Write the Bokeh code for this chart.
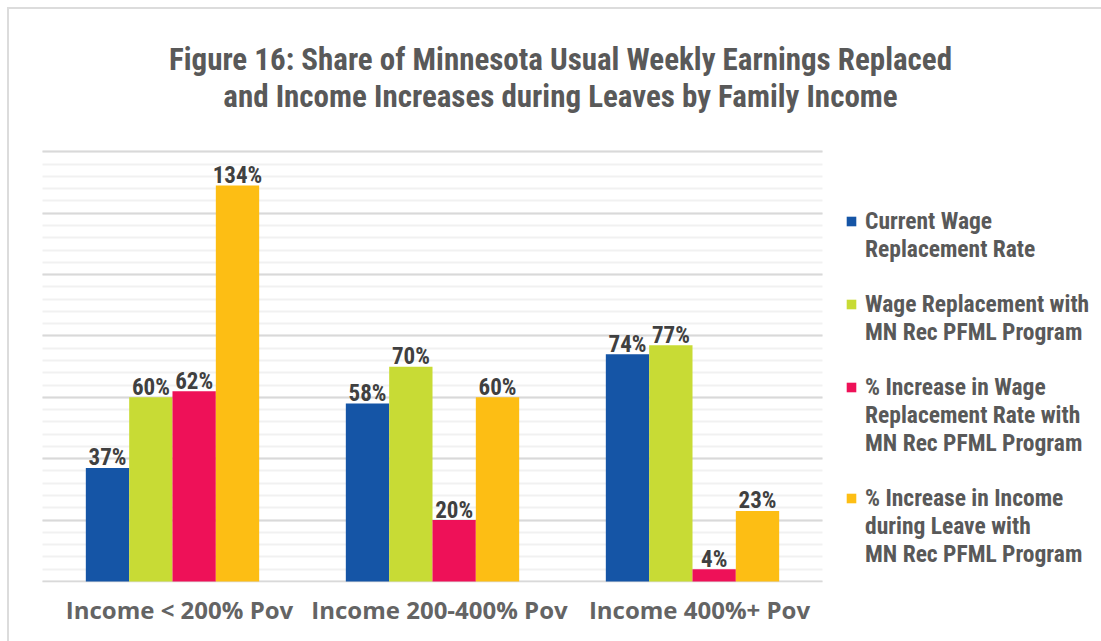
from bokeh.plotting import figure
from bokeh.models import (ColumnDataSource, Legend, LegendItem, Label, BoxAnnotation,
                          SingleIntervalTicker, FixedTicker, Range1d)
from bokeh.layouts import column
from bokeh.transform import dodge
from bokeh.core.properties import value
from bokeh.embed import file_html
from bokeh.resources import INLINE

# ---------------- data ----------------
categories = ["Income < 200% Pov", "Income 200-400% Pov", "Income 400%+ Pov"]

current_wage = [37, 58, 74]
wage_with_pfml = [60, 70, 77]
pct_increase_wage = [62, 20, 4]
pct_increase_income = [129, 60, 23]          # bar heights as drawn in the picture

current_wage_labels = ["37%", "58%", "74%"]
wage_with_pfml_labels = ["60%", "70%", "77%"]
pct_increase_wage_labels = ["62%", "20%", "4%"]
pct_increase_income_labels = ["134%", "60%", "23%"]

legend_lines = [
    ["Current Wage", "Replacement Rate"],
    ["Wage Replacement with", "MN Rec PFML Program"],
    ["% Increase in Wage", "Replacement Rate with", "MN Rec PFML Program"],
    ["% Increase in Income", "during Leave with", "MN Rec PFML Program"],
]
colors = ["#1555A6", "#C8DB35", "#EE1158", "#FDBE14"]

title_lines = ["Figure 16: Share of Minnesota Usual Weekly Earnings Replaced",
               "and Income Increases during Leaves by Family Income"]

COND = "Roboto Condensed"

centers = [i + 0.5 for i in range(len(categories))]
source = ColumnDataSource(dict(
    x=centers,
    s0=current_wage, s1=wage_with_pfml, s2=pct_increase_wage, s3=pct_increase_income,
    l0=current_wage_labels, l1=wage_with_pfml_labels,
    l2=pct_increase_wage_labels, l3=pct_increase_income_labels,
))

# canvas is offset by 9px (7px margin + 2px border of the wrapper)
PX_X = 260.0            # pixels per category
PX_Y = 429.7 / 140.0    # pixels per percent
x0 = -33 / PX_X
y0 = -0.33
p = figure(width=1092, height=632,
           x_range=Range1d(x0, x0 + 1092 / PX_X),
           y_range=Range1d(y0, y0 + 573 / PX_Y),
           output_backend="svg", toolbar_location=None,
           min_border_left=0, min_border_right=0, min_border_top=0, min_border_bottom=59)
p.outline_line_color = None
p.background_fill_color = "white"
p.border_fill_color = "white"

p.yaxis.visible = False
p.xgrid.visible = False
g = p.ygrid[0]
g.ticker = SingleIntervalTicker(interval=20, num_minor_ticks=5)
g.bounds = (0, 140)
g.grid_line_color = "#d9d9d9"
g.grid_line_width = 2
g.minor_grid_line_color = "#f1f1f1"
g.minor_grid_line_width = 2
has_cross = "cross_bounds" in g.properties()
if has_cross:
    g.cross_bounds = (0, len(categories))

label_shift = 7 / PX_X
tick_pos = [c + label_shift for c in centers]
p.xaxis.ticker = FixedTicker(ticks=tick_pos)
p.xaxis.major_label_overrides = {t: lab for t, lab in zip(tick_pos, categories)}
p.xaxis.axis_line_color = None
p.xaxis.major_tick_line_color = None
p.xaxis.minor_tick_line_color = None
p.xaxis.major_tick_out = 0
p.xaxis.major_tick_in = 0
p.xaxis.major_label_standoff = 10
p.xaxis.major_label_text_font = "Open Sans"
p.xaxis.major_label_text_font_style = "bold"
p.xaxis.major_label_text_font_size = "24px"
p.xaxis.major_label_text_color = "#646464"

if not has_cross:
    p.add_layout(BoxAnnotation(left=x0, right=0, fill_color="white", fill_alpha=1,
                               line_color=None, level="underlay"))
    p.add_layout(BoxAnnotation(left=len(categories), fill_color="white", fill_alpha=1,
                               line_color=None, level="underlay"))

offsets = [-0.25, -0.0833, 0.0833, 0.25]
bar_w = 0.1667
renderers = []
for i in range(4):
    xs = dodge("x", offsets[i])
    r = p.vbar(x=xs, top=f"s{i}", width=bar_w, source=source,
               fill_color=colors[i], line_color=None)
    renderers.append(r)
    p.text(x=xs, y=f"s{i}", text=f"l{i}", source=source, text_align="center",
           text_baseline="middle", y_offset=-10, text_font=value(COND),
           text_font_style="bold", text_font_size="23px", text_color="#404040")

dummy = p.vbar(x=[], top=[], width=0.1, fill_alpha=0, line_alpha=0)

items = []
for i, lines in enumerate(legend_lines):
    if i > 0:
        items.append(LegendItem(label=" ", renderers=[dummy]))
    for j, t in enumerate(lines):
        items.append(LegendItem(label=t, renderers=[renderers[i] if j == 0 else dummy]))

legend = Legend(items=items, location=(836, 14), orientation="vertical",
                label_text_font=COND, label_text_font_style="bold",
                label_text_font_size="23.5px", label_text_color="#595959",
                glyph_width=12, glyph_height=12, label_standoff=8, label_height=27,
                spacing=0, padding=0, margin=0, border_line_color=None,
                background_fill_alpha=0)
p.add_layout(legend, "center")

for t, yy in zip(title_lines, [523.2, 486.5]):
    p.add_layout(Label(x=551, y=yy, x_units="screen", y_units="screen", text=t,
                       text_align="center", text_baseline="middle",
                       text_font=COND, text_font_style="bold",
                       text_font_size="31px", text_color="#595959"))

layout = column(p, styles={"margin-left": "7px", "margin-top": "7px",
                           "border-top": "2px solid #dcdcdc",
                           "border-left": "2px solid #dcdcdc"})

open("out.html", "w").write(file_html(layout, INLINE))
